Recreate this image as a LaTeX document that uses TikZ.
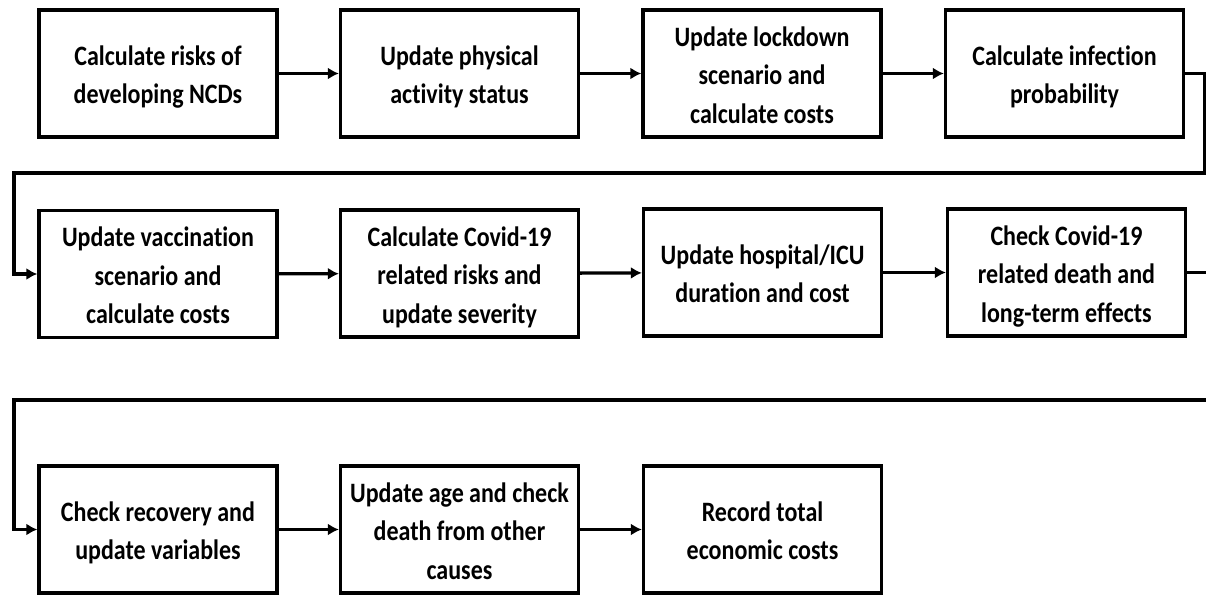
\documentclass[tikz,border=0pt]{standalone}
\usepackage{fontspec}
\setmainfont{Carlito}[Ligatures=NoCommon]
\usepackage{graphicx}
\usetikzlibrary{arrows.meta}
% box label: centred lines, set a little taller than the font's natural shape
% and sitting slightly below the box centre
\newcommand{\steplabel}[1]{\raisebox{-3.5pt}[\height][\depth]{\scalebox{1}[1.17]{\begin{tabular}{@{}c@{}}#1\end{tabular}}}}
\begin{document}
\begin{tikzpicture}[x=1pt,y=-1pt,
  stepbox/.style={draw=black, line width=3.3pt, fill=white, minimum width=238pt,
    minimum height=127pt, align=center, inner sep=0pt,
    font=\fontsize{24}{32.8}\selectfont\bfseries},
  flow/.style={line width=3.3pt, -{Latex[length=11pt,width=12pt]}},
]
\useasboundingbox (0,0) rectangle (1206,594);
\clip (0,0) rectangle (1206,594);

% first row
\node[stepbox] (b1) at (158,73.5) {\steplabel{Calculate risks of\\developing NCDs}};
\node[stepbox] (b2) at (459.5,73.5) {\steplabel{Update physical\\activity status}};
\node[stepbox] (b3) at (762,73.5) {\steplabel{Update lockdown\\scenario and\\calculate costs}};
\node[stepbox] (b4) at (1064.5,73.5) {\steplabel{Calculate infection\\probability}};

% second row
\node[stepbox] (b5) at (158,274) {\steplabel{Update vaccination\\scenario and\\calculate costs}};
\node[stepbox] (b6) at (459.5,273.5) {\steplabel{Calculate Covid-19\\related risks and\\update severity}};
\node[stepbox] (b7) at (762.5,272.5) {\steplabel{Update hospital/ICU\\duration and cost}};
\node[stepbox] (b8) at (1066.5,272.5) {\steplabel{Check Covid-19\\related death and\\long-term effects}};

% third row
\node[stepbox] (b9) at (158,529.5) {\steplabel{Check recovery and\\update variables}};
\node[stepbox] (b10) at (459.5,529.5) {\steplabel{Update age and check\\death from other\\causes}};
\node[stepbox] (b11) at (762.5,529.5) {\steplabel{Record total\\economic costs}};

% turning points of the return lines
\coordinate (r1) at (1204.5,173);
\coordinate (l1) at (14,173);
\coordinate (r2) at (1212,400);
\coordinate (l2) at (14,400);

\draw[flow] (b1) -- (b2);
\draw[flow] (b2) -- (b3);
\draw[flow] (b3) -- (b4);
\draw[flow] (b4.east) -| (r1) -- (l1) |- (b5.west);
\draw[flow] (b5) -- (b6);
\draw[flow] (b6) -- (b7);
\draw[flow] (b7) -- (b8);
\draw[flow] (b8.east) -| (r2) -- (l2) |- (b9.west);
\draw[flow] (b9) -- (b10);
\draw[flow] (b10) -- (b11);
\end{tikzpicture}
\end{document}
